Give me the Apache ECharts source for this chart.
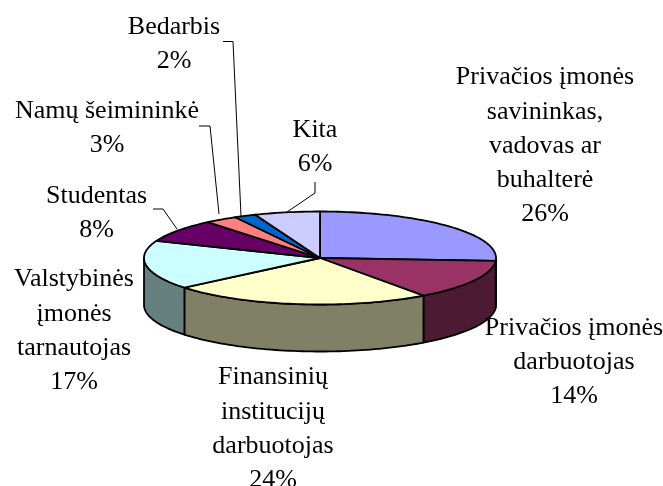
<!DOCTYPE html>
<html><head><meta charset="utf-8">
<style>html,body{margin:0;padding:0;background:#fff}#c{width:663px;height:486px}</style>
<script src="https://cdn.jsdelivr.net/npm/echarts@6/dist/echarts.min.js"></script>
</head><body><div id="c"></div>
<script>
const categories = ['Privačios įmonės\nsavininkas,\nvadovas ar\nbuhalterė','Privačios įmonės\ndarbuotojas','Finansinių\ninstitucijų\ndarbuotojas','Valstybinės\nįmonės\ntarnautojas','Studentas','Namų šeimininkė','Bedarbis','Kita'];
const values = [26,14,24,17,8,3,2,6];
const topColors = ['#9999ff','#993366','#ffffcc','#ccffff','#660066','#ff8080','#0066cc','#ccccff'];
const sideColors = ['#4d4d80','#4d1a33','#808066','#668080','#330033','#804040','#003366','#666680'];
// layout
const CX=320, CY=258, RX=176, RY=46.5, DEPTH=47;
const labelPos = [[545,146],[574,362],[273,429],[74,331],[96.5,213],[107,128.5],[174,44.5],[315,147]];
const leaders = [null,null,null,null,[[153,209],[163,209],[177,229]],[[199,126],[210,126],[219,214]],[[223,41.5],[233,41.5],[241,216]],[[315,182],[315,193],[287,212]]];
const LINE_H = 34.3;

const total = values.reduce((a,b)=>a+b,0);
const pt = (deg,dy)=>{const r=deg*Math.PI/180;return [CX+RX*Math.sin(r),CY-RY*Math.cos(r)+(dy||0)];};
function range(i){let s=0;for(let k=0;k<i;k++)s+=values[k];return [s/total*360,(s+values[i])/total*360];}
function arc(a,b,dy){const n=Math.max(2,Math.ceil((b-a)/1.5));const o=[];for(let k=0;k<=n;k++)o.push(pt(a+(b-a)*k/n,dy));return o;}

const dataset = values.map((v,i)=>({name:categories[i].replace(/\n/g,' '),value:v}));
const option = {
  animation:false,
  backgroundColor:'#fff',
  series:[
   {type:'custom',coordinateSystem:'none',z:1,silent:true,data:dataset,
    renderItem(p,api){
      const v=api.value(0);
      const [a0,b0]=range(p.dataIndex);
      const a=Math.max(a0,90), b=Math.min(b0,270);
      if(b<=a||!v) return {type:'group',children:[]};
      const pts=arc(a,b,0).concat(arc(a,b,DEPTH).reverse());
      return {type:'polygon',shape:{points:pts},style:{fill:sideColors[p.dataIndex],stroke:'#000',lineWidth:1.8,lineJoin:'round'}};
    }},
   {type:'custom',coordinateSystem:'none',z:2,silent:true,data:dataset,
    renderItem(p,api){
      const [a,b]=range(p.dataIndex);
      const pts=[[CX,CY]].concat(arc(a,b,0));
      return {type:'polygon',shape:{points:pts},style:{fill:topColors[p.dataIndex],stroke:'#000',lineWidth:1.8,lineJoin:'round'}};
    }},
   {type:'custom',coordinateSystem:'none',z:3,silent:true,data:dataset,
    renderItem(p,api){
      const i=p.dataIndex, ch=[];
      if(leaders[i]) ch.push({type:'polyline',shape:{points:leaders[i]},style:{fill:'none',stroke:'#000',lineWidth:1}});
      ch.push({type:'text',x:labelPos[i][0],y:labelPos[i][1],style:{
        text:categories[i]+'\n'+api.value(0)+'%',
        font:'26px "Liberation Serif"',fill:'#000',align:'center',verticalAlign:'middle',lineHeight:LINE_H}});
      return {type:'group',children:ch};
    }}
  ]
};
echarts.init(document.getElementById('c'),null,{renderer:'canvas'}).setOption(option);
</script></body></html>
